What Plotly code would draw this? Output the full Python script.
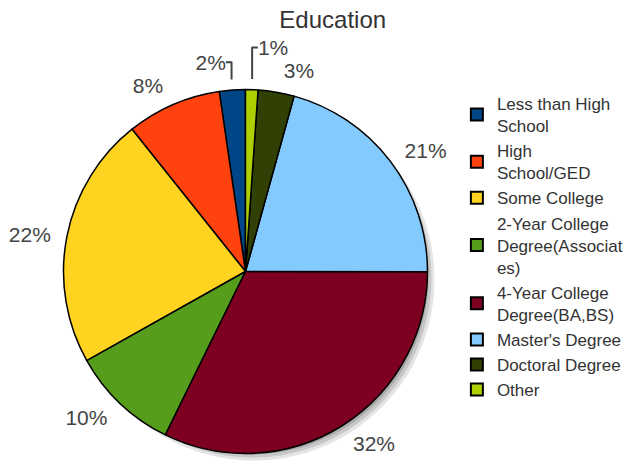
import plotly.graph_objects as go

categories = ["Less than High<br>School", "High<br>School/GED", "Some College",
              "2-Year College<br>Degree(Associat<br>es)", "4-Year College<br>Degree(BA,BS)",
              "Master's Degree", "Doctoral Degree", "Other"]
values = [2.3, 8.4, 22.4, 9.6, 32.2, 20.7, 3.2, 1.1]
colors = ["#004586", "#ff420e", "#ffd320", "#579d1c", "#7e0021", "#83caff", "#314004", "#aecf00"]

W, H = 635, 464
HEFF = H   # plot area height (margins not auto-expanded)
FONT = "Liberation Sans, Arial, sans-serif"
cx, cy, r = 245.5, 271.5, 182
ROT = -8.3


def dom(cx_, cy_, r_):
    # keep the square domain inside the plot area: shrink radius if needed
    r_ = min(r_, cx_, W - cx_, cy_, HEFF - cy_)
    ym = 1 - cy_ / HEFF
    return dict(x=[(cx_ - r_) / W, (cx_ + r_) / W],
                y=[max(0, ym - r_ / HEFF), min(1, ym + r_ / HEFF)])


fig = go.Figure()
# soft shadow (bottom-right)
for off, dr, op in [(8, -1, 0.10), (7, -3, 0.12), (6, -5, 0.14), (5, -7, 0.16)]:
    fig.add_trace(go.Pie(
        labels=categories, values=values, sort=False, direction="counterclockwise", rotation=ROT,
        marker=dict(colors=["#000000"] * len(values), line=dict(width=0)),
        opacity=op, textinfo="none", hoverinfo="skip", showlegend=False,
        domain=dom(cx + off, cy + off, r + dr),
    ))
# main pie
fig.add_trace(go.Pie(
    labels=categories, values=values, sort=False, direction="counterclockwise", rotation=ROT,
    marker=dict(colors=colors, line=dict(color="#000000", width=1.5)),
    textinfo="none", domain=dom(cx, cy, r), hoverinfo="label+percent", showlegend=True,
))
# label ring (transparent, slightly larger so percentages sit further out)
fig.add_trace(go.Pie(
    labels=categories, values=values, sort=False, direction="counterclockwise", rotation=ROT,
    marker=dict(colors=["rgba(0,0,0,0)"] * len(values), line=dict(width=0)),
    textposition="outside", texttemplate="%{percent:.0%}",
    textfont=dict(family=FONT, size=21, color="#444444"),
    domain=dom(cx, cy, r + 11), hoverinfo="skip", showlegend=False,
))
fig.update_layout(
    width=W, height=H, margin=dict(l=0, r=0, t=0, b=0, autoexpand=False),
    paper_bgcolor="white", plot_bgcolor="white",
    font=dict(family=FONT, color="#333333"),
    title=dict(text="Education", x=0.524, xanchor="center", y=0.957, yanchor="middle",
               font=dict(size=24, color="#333333")),
    legend=dict(x=0.7195, y=0.815, xanchor="left", yanchor="top",
                font=dict(size=17, color="#333333"), itemsizing="constant",
                tracegroupgap=0, traceorder="normal"),
)
fig.write_html("out.html", config={"displayModeBar": False},
               post_script="document.body.style.margin='0';")
